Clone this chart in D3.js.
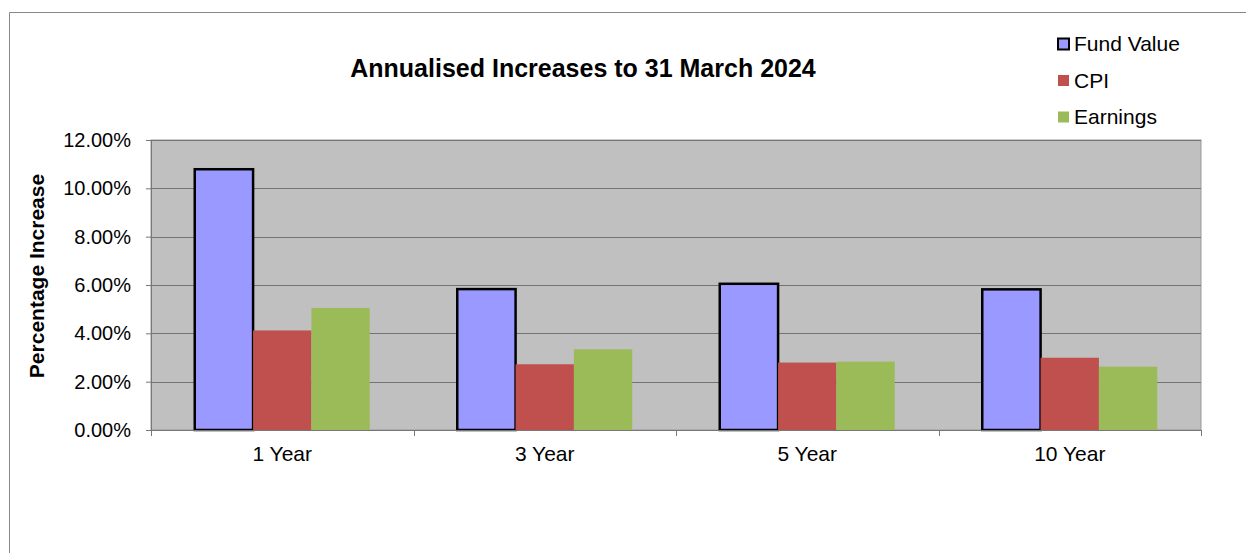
<!DOCTYPE html>
<html>
<head>
<meta charset="utf-8">
<script src="https://cdn.jsdelivr.net/npm/d3@7"></script>
<style>
  body { margin: 0; background: #fff; }
  svg { display: block; font-family: "Liberation Sans", Arial, sans-serif; }
</style>
</head>
<body>
<div id="chart"></div>
<script>
// chart data
var categories = ['1 Year', '3 Year', '5 Year', '10 Year'];
var seriesNames = ['Fund Value', 'CPI', 'Earnings'];
var fundValue = [10.79, 5.83, 6.05, 5.82];
var cpi = [4.12, 2.72, 2.79, 2.99];
var earnings = [5.05, 3.34, 2.83, 2.62];
var yTicks = [0, 2, 4, 6, 8, 10, 12];

var width = 1246,
  height = 553;

var colors = ['#9999ff', '#c0504d', '#9bbb59'];
var seriesValues = [fundValue, cpi, earnings];

var svg = d3.select('#chart').append('svg')
    .attr('width', width)
    .attr('height', height);

// outer chart frame
svg.append('path')
    .attr('d', 'M9.5,' + height + 'V12.5H' + width)
    .attr('fill', 'none')
    .attr('stroke', '#888');

var plot = { left: 151, top: 140, right: 1201, bottom: 430 };

var x = d3.scaleBand()
    .domain(categories)
    .range([plot.left, plot.right])
    .paddingInner(0)
    .paddingOuter(0);

var x1 = d3.scaleBand()
    .domain(seriesNames)
    .range([0, x.bandwidth()])
    .paddingOuter(0.75)
    .paddingInner(0);

var y = d3.scaleLinear()
    .domain([0, 12])
    .range([plot.bottom, plot.top]);

// plot background
svg.append('rect')
    .attr('x', plot.left)
    .attr('y', plot.top)
    .attr('width', plot.right - plot.left)
    .attr('height', plot.bottom - plot.top)
    .attr('fill', '#c0c0c0')
    .attr('stroke', '#999');

// gridlines
svg.append('g')
  .selectAll('line')
  .data(yTicks)
  .enter().append('line')
  .attr('x1', plot.left)
  .attr('x2', plot.right)
  .attr('y1', function(d) { return Math.round(y(d)) + 0.5; })
  .attr('y2', function(d) { return Math.round(y(d)) + 0.5; })
  .attr('stroke', '#737373');

// bars
var rows = categories.map(function(c, i) {
  return seriesNames.map(function(s, j) {
    return { cat: c, name: s, value: seriesValues[j][i], color: colors[j] };
  });
});

var groups = svg.append('g')
  .selectAll('g')
  .data(rows)
  .enter().append('g')
  .attr('transform', function(d, i) { return 'translate(' + x(categories[i]) + ',0)'; });

groups.selectAll('rect')
  .data(function(d) { return d; })
  .enter().append('rect')
  .attr('x', function(d) { return x1(d.name); })
  .attr('y', function(d) { return y(d.value); })
  .attr('width', x1.bandwidth())
  .attr('height', function(d) { return y(0) - y(d.value); })
  .attr('fill', function(d) { return d.color; })
  .attr('stroke', function(d) { return d.name === 'Fund Value' ? '#000' : 'none'; })
  .attr('stroke-width', 2.5);

// y axis
var yAxis = d3.axisLeft(y)
    .tickValues(yTicks)
    .tickSize(5)
    .tickFormat(function(d) { return d3.format('.2f')(d) + '%'; });

var yg = svg.append('g')
  .attr('transform', 'translate(' + plot.left + ',0)')
  .call(yAxis);
yg.select('.domain').attr('stroke', '#777');
yg.selectAll('.tick line').attr('stroke', '#777');
yg.selectAll('text')
  .attr('x', -20)
  .style('font-size', '20px')
  .attr('fill', '#000')
  .style('font-family', '"Liberation Sans", Arial, sans-serif');

// x axis
var xAxis = d3.axisBottom(x).tickSize(0);
var xg = svg.append('g')
  .attr('transform', 'translate(0,' + plot.bottom + ')')
  .call(xAxis);
xg.select('.domain').attr('stroke', '#777');
xg.selectAll('text')
  .attr('y', 16)
  .attr('dy', '0.71em')
  .style('font-size', '21px')
  .attr('fill', '#000')
  .style('font-family', '"Liberation Sans", Arial, sans-serif');

// category divider ticks
svg.append('g')
  .selectAll('line')
  .data(categories.concat(['end']))
  .enter().append('line')
  .attr('x1', function(d, i) { return Math.round(plot.left + i * x.bandwidth()) + 0.5; })
  .attr('x2', function(d, i) { return Math.round(plot.left + i * x.bandwidth()) + 0.5; })
  .attr('y1', plot.bottom)
  .attr('y2', plot.bottom + 6)
  .attr('stroke', '#777');

// title
svg.append('text')
  .attr('x', 583)
  .attr('y', 77)
  .attr('text-anchor', 'middle')
  .style('font-size', '25px')
  .style('font-weight', 'bold')
  .text('Annualised Increases to 31 March 2024');

// y axis title
svg.append('text')
  .attr('transform', 'translate(44,' + ((plot.top + plot.bottom) / 2 - 9) + ') rotate(-90)')
  .attr('text-anchor', 'middle')
  .style('font-size', '21px')
  .style('font-weight', 'bold')
  .text('Percentage Increase');

// legend
var legend = svg.append('g')
  .selectAll('g')
  .data(seriesNames)
  .enter().append('g')
  .attr('transform', function(d, i) { return 'translate(1058,' + (44 + i * 36.5) + ')'; });

legend.append('rect')
  .attr('x', 0)
  .attr('y', -5.5)
  .attr('width', 11)
  .attr('height', 11)
  .attr('fill', function(d, i) { return colors[i]; })
  .attr('stroke', function(d, i) { return i === 0 ? '#000' : 'none'; })
  .attr('stroke-width', 2);

legend.append('text')
  .attr('x', 16)
  .attr('y', 0)
  .attr('dy', '0.35em')
  .style('font-size', '21px')
  .text(function(d) { return d; });
</script>
</body>
</html>
